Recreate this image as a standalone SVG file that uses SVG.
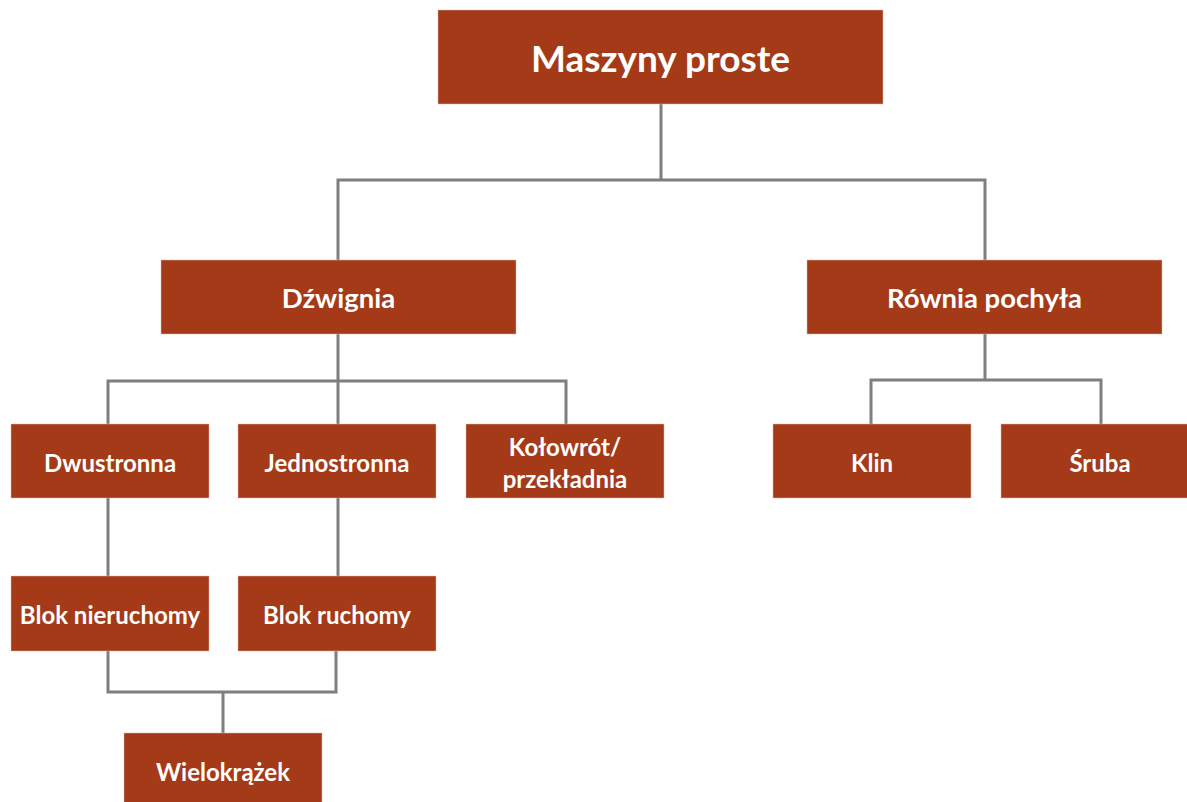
<svg xmlns="http://www.w3.org/2000/svg" width="1187" height="802" viewBox="0 0 1187 802">
<style>
.box{fill:#A43A18;stroke:#E8B8A8;stroke-width:0.5}
.lbl{font-family:Lato,"Liberation Sans",sans-serif;font-weight:bold;fill:#ffffff;text-anchor:middle;dominant-baseline:central}
.s{font-size:24px}
.m{font-size:27.5px}
.l{font-size:37px}
.conn{fill:none;stroke:#7F7F7F;stroke-width:3}
</style>
<rect width="1187" height="802" fill="#ffffff"/>
<g id="connectors">
<path class="conn" d="M661,104 V180 M338,260 V180 H985 V260"/>
<path class="conn" d="M338,334 V381 M108,424 V381 H566 V424 M338,381 V424"/>
<path class="conn" d="M985,334 V380 M871,424 V380 H1101 V424"/>
<path class="conn" d="M108,498 V576 M338,498 V576"/>
<path class="conn" d="M108,651 V692 H336 V651 M223,692 V733"/>
</g>
<g id="n-maszyny"><rect class="box" x="438" y="10" width="445" height="94"/><text class="lbl l" x="660.5" y="57">Maszyny proste</text></g>
<g id="n-dzwignia"><rect class="box" x="161" y="260" width="355" height="74"/><text class="lbl m" x="338.5" y="297">Dźwignia</text></g>
<g id="n-rownia"><rect class="box" x="807" y="260" width="355" height="74"/><text class="lbl m" x="984.5" y="297">Równia pochyła</text></g>
<g id="n-dwustronna"><rect class="box" x="11" y="424" width="198" height="74"/><text class="lbl s" x="110" y="462">Dwustronna</text></g>
<g id="n-jednostronna"><rect class="box" x="238" y="424" width="198" height="74"/><text class="lbl s" x="337" y="462">Jednostronna</text></g>
<g id="n-kolowrot"><rect class="box" x="466" y="424" width="198" height="74"/><text class="lbl s" x="565" y="446">Kołowrót/</text><text class="lbl s" x="565" y="478">przekładnia</text></g>
<g id="n-klin"><rect class="box" x="773" y="424" width="198" height="74"/><text class="lbl s" x="872" y="462">Klin</text></g>
<g id="n-sruba"><rect class="box" x="1001" y="424" width="198" height="74"/><text class="lbl s" x="1100" y="462">Śruba</text></g>
<g id="n-blok-nieruchomy"><rect class="box" x="11" y="576" width="198" height="75"/><text class="lbl s" x="110" y="614">Blok nieruchomy</text></g>
<g id="n-blok-ruchomy"><rect class="box" x="238" y="576" width="198" height="75"/><text class="lbl s" x="337" y="614">Blok ruchomy</text></g>
<g id="n-wielokrazek"><rect class="box" x="124" y="733" width="198" height="80"/><text class="lbl s" x="223" y="771">Wielokrążek</text></g>
</svg>
